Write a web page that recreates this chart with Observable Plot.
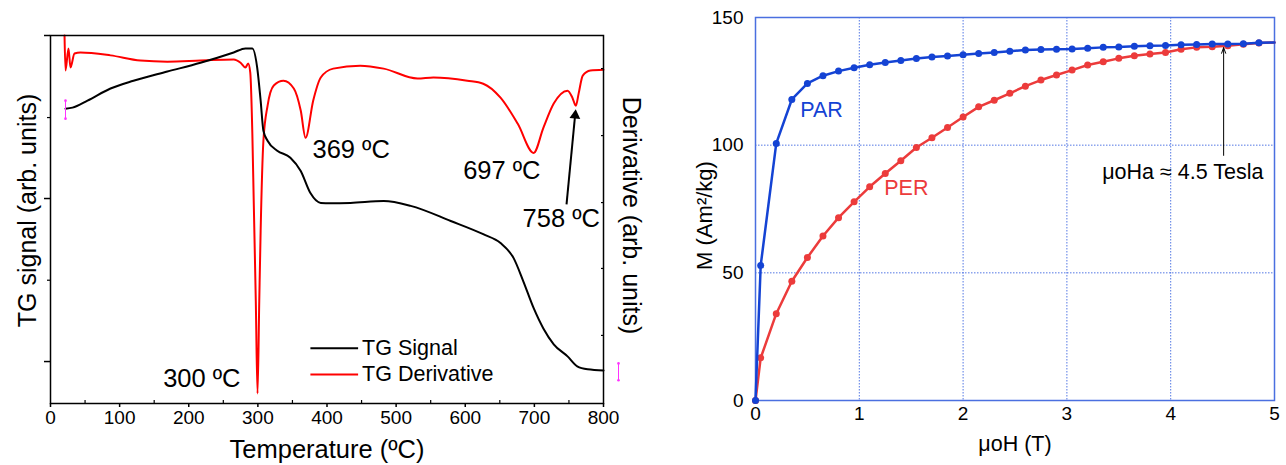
<!DOCTYPE html>
<html>
<head>
<meta charset="utf-8">
<script src="https://cdn.jsdelivr.net/npm/d3@7"></script>
<script src="https://cdn.jsdelivr.net/npm/@observablehq/plot@0.6"></script>
<style>
  html, body { margin: 0; padding: 0; background: #fff; }
  #wrap { display: flex; width: 1286px; height: 465px; overflow: hidden; }
  svg { display: block; }
</style>
</head>
<body>
<div id="wrap"></div>
<script>
// ---------- Left panel: TG signal and derivative (arbitrary units, 0-100 of frame) ----------
const tgTemp = [21.7, 31.8, 53.5, 86.8, 120, 169, 217, 265, 282, 292, 299, 304, 308, 314, 328, 347, 362, 376, 391, 405, 434, 482, 521, 579, 626, 651, 670, 684, 699, 713, 728, 748, 762, 777, 800];
const tgSignal = [80.1, 80.4, 82.3, 85.6, 87.7, 90.2, 92.6, 95.4, 96.5, 96.5, 91.3, 82.3, 74.1, 71.4, 68.7, 66.8, 63.2, 57.2, 54.5, 54.4, 54.5, 55.0, 53.7, 49.6, 46.0, 43.6, 39.5, 33.2, 25.9, 20.4, 16.1, 12.8, 10.1, 9.3, 9.0];

const derivTemp = [20.3, 21.7, 26, 28.9, 34.7, 43.4, 86.8, 130, 169, 217, 265, 275, 282, 286, 289, 292, 294, 297, 299.5, 302, 304, 308, 314, 323, 337, 352, 362, 369, 380, 391, 409, 448, 482, 531, 554, 603, 626, 651, 676, 699, 713, 728, 748, 755, 760, 764, 770, 781, 800];
const derivValue = [100, 90.5, 96.5, 91.3, 95.1, 95.4, 94.6, 93.2, 92.9, 93.2, 93.5, 92.6, 91.3, 92.4, 89.9, 73.3, 55.0, 27.8, 2.7, 27.8, 46.9, 71.4, 80.9, 86.4, 87.7, 85.6, 79.6, 72.2, 82.3, 88.6, 91.0, 91.8, 91.0, 88.3, 88.6, 87.7, 86.9, 83.1, 76.0, 68.1, 74.9, 81.5, 85.0, 83.1, 80.9, 84.2, 89.1, 90.5, 90.7];

const tempTicks = [0, 100, 200, 300, 400, 500, 600, 700, 800];
const tempMinorTicks = [50, 150, 250, 350, 450, 550, 650, 750];
const leftMajorTicks = [11.4, 55.7, 100];
const leftMinorTicks = [33.5, 77.7];
const rightTicks = [18.5, 36.7, 54.6, 72.8, 91.0];

const peakNotes = [
  {x: 379, y: 68.8, label: "369 ºC"},
  {x: 597, y: 63.3, label: "697 ºC"},
  {x: 683, y: 50.3, label: "758 ºC"},
  {x: 163, y: 6.8, label: "300 ºC"}
];
const peakArrowLine = [{x1: 746.5, y1: 54.1, x2: 759.0, y2: 78.5}];
const peakArrowHead = [{x: 759.0, y: 78.3, angle: 5.4}];
const tgLegend = [
  {x1: 376, x2: 445, y: 15.0, label: "TG Signal", color: "#000000"},
  {x1: 376, x2: 445, y: 7.9, label: "TG Derivative", color: "#ff0000"}
];
const magentaMarks = [
  {x: 21.7, y1: 82.3, y2: 77.4},
  {x: 821.7, y1: 10.9, y2: 6.3}
];

// ---------- Right panel: magnetization curves ----------
const field = [0, 0.05, 0.2, 0.35, 0.5, 0.65, 0.8, 0.95, 1.1, 1.25, 1.4, 1.55, 1.7, 1.85, 2.0, 2.15, 2.3, 2.45, 2.6, 2.75, 2.9, 3.05, 3.2, 3.35, 3.5, 3.65, 3.8, 3.95, 4.1, 4.25, 4.4, 4.55, 4.7, 4.85, 5.0];
const parM = [0, 52.9, 100.7, 117.9, 124.2, 127.2, 129.0, 130.3, 131.5, 132.4, 133.2, 133.9, 134.5, 134.9, 135.4, 135.9, 136.3, 136.8, 137.3, 137.5, 137.6, 137.7, 138.0, 138.3, 138.4, 138.7, 138.9, 139.0, 139.3, 139.4, 139.6, 139.6, 139.7, 140.1, 140.2];
const perM = [0, 16.7, 34.0, 46.7, 56.0, 64.4, 71.6, 77.8, 83.7, 88.9, 93.9, 99.1, 102.9, 106.9, 111.0, 115.0, 117.6, 120.3, 123.1, 125.5, 127.5, 129.4, 131.4, 132.7, 134.0, 135.0, 135.7, 136.3, 137.6, 138.3, 138.5, 138.9, 139.5, 140.0, 140.2];
const fieldTicks = [0, 1, 2, 3, 4, 5];
const mTicks = [0, 50, 100, 150];
const magNotes = [
  {x: 0.43, y: 113.7, label: "PAR", color: "#1443d4", size: 21.5},
  {x: 1.24, y: 83.1, label: "PER", color: "#ec3b3b", size: 21.5},
  {x: 3.34, y: 89.4, label: "μoHa ≈ 4.5 Tesla", color: "#000000", size: 21.5}
];
const magArrow = [{x1: 4.51, y1: 96, x2: 4.51, y2: 138.2}];

const FONT = "'Liberation Sans', Arial, Helvetica, sans-serif";
const BLUE = "#1443d4";
const RED = "#ec3b3b";
const GRIDBLUE = "#4169e1";

const tgRows = tgTemp.map((t, i) => ({t, v: tgSignal[i]}));
const dRows = derivTemp.map((t, i) => ({t, v: derivValue[i]}));

const left = Plot.plot({
  width: 660, height: 465,
  marginLeft: 50, marginRight: 57, marginTop: 35, marginBottom: 62,
  style: {fontFamily: FONT, fontSize: "19px", color: "#000", background: "transparent", overflow: "visible"},
  x: {domain: [0, 800]},
  y: {domain: [0, 100]},
  color: {type: "identity"},
  marks: [
    Plot.line(dRows, {x: "t", y: "v", stroke: "#ff0000", strokeWidth: 2, curve: "monotone-x"}),
    Plot.line(tgRows, {x: "t", y: "v", stroke: "#000", strokeWidth: 2, curve: "monotone-x"}),
    Plot.frame({stroke: "#000", strokeWidth: 1.5}),
    Plot.axisX({ticks: tempTicks, tickSize: 4, tickPadding: 3, fontSize: 19, label: null, strokeWidth: 1.5}),
    Plot.axisX({ticks: tempMinorTicks, tickSize: -3, tickFormat: () => "", label: null, strokeWidth: 1.2}),
    Plot.axisY({anchor: "left", ticks: leftMajorTicks, tickSize: 6, tickFormat: () => "", label: null, strokeWidth: 1.5}),
    Plot.axisY({anchor: "left", ticks: leftMinorTicks, tickSize: 3, tickFormat: () => "", label: null, strokeWidth: 1.2}),
    Plot.axisY({anchor: "right", ticks: rightTicks, tickSize: -3, tickFormat: () => "", label: null, strokeWidth: 1.2}),
    Plot.text(["Temperature (ºC)"], {frameAnchor: "bottom", textAnchor: "middle", dy: 46, lineAnchor: "middle", fontSize: 25.5}),
    Plot.text(["TG signal (arb. units)"], {frameAnchor: "left", textAnchor: "middle", rotate: -90, dx: -23, dy: -9, lineAnchor: "middle", fontSize: 25}),
    Plot.text(["Derivative (arb. units)"], {frameAnchor: "right", textAnchor: "middle", rotate: 90, dx: 27, dy: -4, lineAnchor: "middle", fontSize: 25}),
    Plot.text(peakNotes, {x: "x", y: "y", text: "label", textAnchor: "start", lineAnchor: "middle", fontSize: 25.5}),
    Plot.link(peakArrowLine, {x1: "x1", y1: "y1", x2: "x2", y2: "y2", stroke: "#000", strokeWidth: 2}),
    Plot.dot(peakArrowHead, {x: "x", y: "y", symbol: "triangle", r: 4, fill: "#000", stroke: "none", rotate: "angle"}),
    Plot.link(tgLegend, {x1: "x1", x2: "x2", y1: "y", y2: "y", stroke: "color", strokeWidth: 2}),
    Plot.text(tgLegend, {x: "x2", y: "y", text: "label", dx: 4, textAnchor: "start", lineAnchor: "middle", fontSize: 21.5}),
    Plot.link(magentaMarks, {x1: "x", x2: "x", y1: "y1", y2: "y2", stroke: "#ff33ff", strokeWidth: 1}),
    Plot.dot(magentaMarks, {x: "x", y: "y1", r: 1.3, fill: "#ff33ff"}),
    Plot.dot(magentaMarks, {x: "x", y: "y2", r: 1.3, fill: "#ff33ff"})
  ]
});

const magRows = field.map((h, i) => ({h, par: parM[i], per: perM[i]}));
const magDots = magRows.filter(d => d.h < 5);

const right = Plot.plot({
  width: 626, height: 465,
  marginLeft: 95, marginRight: 12, marginTop: 17, marginBottom: 65,
  style: {fontFamily: FONT, fontSize: "19px", color: "#000", background: "transparent", overflow: "visible"},
  x: {domain: [0, 5]},
  y: {domain: [0, 150]},
  color: {type: "identity"},
  marks: [
    Plot.gridX({ticks: fieldTicks, stroke: GRIDBLUE, strokeOpacity: 0.9, strokeWidth: 1, strokeDasharray: "1.5,1.5"}),
    Plot.gridY({ticks: mTicks, stroke: GRIDBLUE, strokeOpacity: 0.9, strokeWidth: 1, strokeDasharray: "1.5,1.5"}),
    Plot.frame({stroke: "#4a6fe0", strokeWidth: 1.5}),
    Plot.axisX({ticks: fieldTicks, tickSize: 0, tickPadding: 6, fontSize: 19, tickFormat: d3.format("d"), label: null}),
    Plot.axisY({ticks: mTicks, tickSize: 0, tickPadding: 12, fontSize: 19, tickFormat: d3.format("d"), label: null}),
    Plot.line(magRows, {x: "h", y: "per", stroke: RED, strokeWidth: 2.5}),
    Plot.dot(magDots, {x: "h", y: "per", fill: RED, r: 3.5}),
    Plot.line(magRows, {x: "h", y: "par", stroke: BLUE, strokeWidth: 2.5}),
    Plot.dot(magDots, {x: "h", y: "par", fill: BLUE, r: 3.5}),
    Plot.text(magNotes, {x: "x", y: "y", text: "label", fill: "color", fontSize: "size", textAnchor: "start", lineAnchor: "middle"}),
    Plot.arrow(magArrow, {x1: "x1", y1: "y1", x2: "x2", y2: "y2", stroke: "#000", strokeWidth: 1, headLength: 9, headAngle: 40}),
    Plot.text(["μoH (T)"], {frameAnchor: "bottom", textAnchor: "middle", dy: 44, lineAnchor: "middle", fontSize: 21.5}),
    Plot.text(["M (Am²/kg)"], {frameAnchor: "left", textAnchor: "middle", rotate: -90, dx: -51, dy: 6.5, lineAnchor: "middle", fontSize: 22})
  ]
});

const wrap = document.getElementById("wrap");
wrap.appendChild(left);
wrap.appendChild(right);
</script>
</body>
</html>
